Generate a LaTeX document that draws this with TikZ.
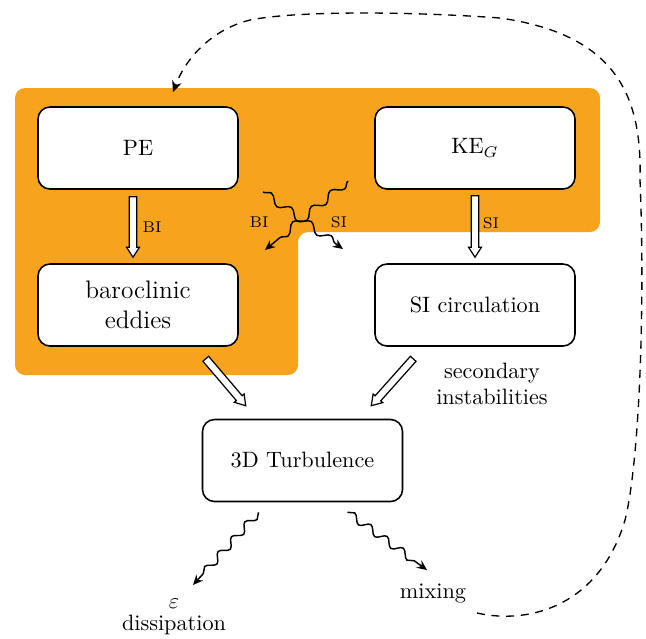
\documentclass[tikz,border=0pt]{standalone}
\usetikzlibrary{calc,arrows.meta,decorations.pathmorphing}
\definecolor{myorange}{RGB}{248,163,30}
\begin{document}
\begin{tikzpicture}[x=0.45pt,y=-0.45pt,
  box/.style={draw, line width=0.7pt, rounded corners=5.4pt, fill=white,
    minimum width=90pt, minimum height=36.9pt, align=center, inner sep=0pt},
  fatarrow/.style={draw, fill=white, line width=0.55pt, line join=miter,
    to path={let \p1=(\tikztostart), \p2=(\tikztotarget),
      \p3=($(\p2)!4.5pt!(\p1)$) in
      ($(\p1)!1.7pt!90:(\p2)$) -- ($(\p3)!1.7pt!90:(\p2)$) --
      ($(\p3)!2.9pt!90:(\p2)$) -- (\p2) --
      ($(\p3)!2.9pt!-90:(\p2)$) -- ($(\p3)!1.7pt!-90:(\p2)$) --
      ($(\p1)!1.7pt!-90:(\p2)$) -- cycle}},
  wavy/.style={line width=0.65pt, decorate,
    decoration={snake, amplitude=1.7pt, segment length=9pt, post length=4pt},
    -{Stealth[length=4.5pt,width=4pt]}},
  lbl/.style={font=\scriptsize, inner sep=0pt},
  txt/.style={align=center, inner sep=0pt}
]
\useasboundingbox (0,0) rectangle (646,638);

% orange region
\fill[myorange, rounded corners=4.5pt]
  (15,88) -- (600,88) -- (600,232) -- (298,232) -- (298,375) -- (15,375) -- cycle;

% boxes
\node[box] (PE) at (138,148) {PE};
\node[box, font=\fontsize{11.4}{13.7}\selectfont] (baro) at (138,305) {baroclinic\\eddies};
\node[box] (KE) at (475,148) {KE$_G$};
\node[box] (SIc) at (475,305) {SI circulation};
\node[box] (turb) at (302.5,460.5) {3D Turbulence};

% texts
\node[txt] (sec) at (492,384) {secondary\\instabilities};
\node[txt] (mix) at (433,593) {mixing};
\node[txt] (diss) at (174,617) {$\varepsilon$\\[-2pt]dissipation};

% fat arrows
\coordinate (a1s) at ($(PE.south)+(-5,7)$);
\coordinate (a1e) at ($(baro.north)+(-5,-6)$);
\coordinate (a2s) at ($(KE.south)+(0,6)$);
\coordinate (a2e) at ($(SIc.north)+(0,-6)$);
\coordinate (a3s) at ($(baro.south east)+(-33,12)$);
\coordinate (a3e) at ($(turb.north west)+(44,-13)$);
\coordinate (a4s) at ($(SIc.south west)+(39,12)$);
\coordinate (a4e) at ($(turb.north east)+(-32,-13)$);
\draw[fatarrow] (a1s) to (a1e);
\draw[fatarrow] (a2s) to (a2e);
\draw[fatarrow] (a3s) to (a3e);
\draw[fatarrow] (a4s) to (a4e);
\node[lbl] (lbBI) at (152,227) {BI};
\node[lbl] (lbSI) at (491,223) {SI};

% crossing wavy arrows
\coordinate (cAs) at (263,192);
\coordinate (cAe) at (343,249);
\coordinate (cBs) at (348,181);
\coordinate (cBe) at (265,250);
\draw[wavy, decoration={amplitude=1.8pt, segment length=11pt}] (cAs) -- (cAe);
\draw[wavy, decoration={amplitude=1.8pt, segment length=11pt}] (cBs) -- (cBe);
\node[lbl] (cBI) at (259,222) {BI};
\node[lbl] (cSI) at (339,222) {SI};

% wavy arrows from turbulence
\coordinate (w1s) at ($(turb.south)+(-44,10)$);
\coordinate (w1e) at (193,585);
\coordinate (w2s) at ($(turb.south)+(45,10)$);
\coordinate (w2e) at (427,570);
\draw[wavy] (w1s) -- (w1e);
\draw[wavy] (w2s) -- (w2e);

% dashed feedback loop
\coordinate (ds) at (477,613);
\coordinate (de) at (173,92);
\draw[line width=0.6pt, dash pattern=on 3.6pt off 3pt, -{Stealth[length=5pt,width=4.5pt]}]
  (ds) .. controls (530,625) and (600,605) .. (625,520)
       .. controls (640,460) and (645,300) .. (640,180)
       .. controls (642,100) and (620,35) .. (500,18)
       .. controls (420,12) and (300,10) .. (250,20)
       .. controls (210,30) and (185,60) .. (de);
\end{tikzpicture}
\end{document}
